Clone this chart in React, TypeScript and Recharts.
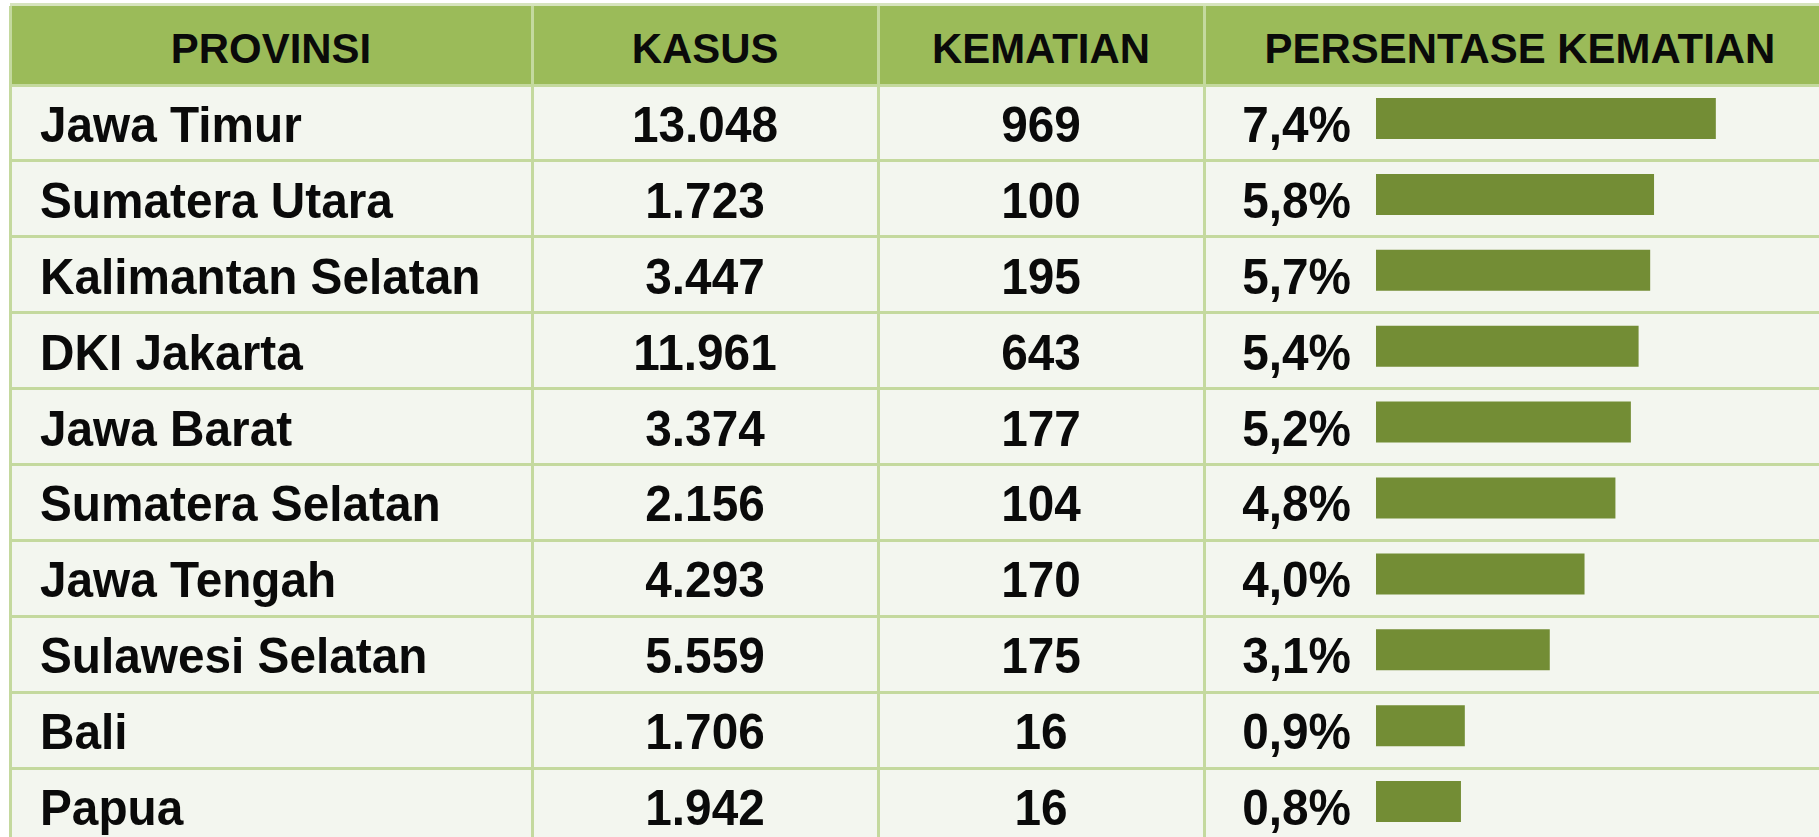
import React from "react";
import { BarChart, Bar, XAxis, YAxis } from "recharts";

// ─── Data ─────────────────────────────────────────────────────────────────────

const headers = ["PROVINSI", "KASUS", "KEMATIAN", "PERSENTASE KEMATIAN"];

const provinces = [
  "Jawa Timur",
  "Sumatera Utara",
  "Kalimantan Selatan",
  "DKI Jakarta",
  "Jawa Barat",
  "Sumatera Selatan",
  "Jawa Tengah",
  "Sulawesi Selatan",
  "Bali",
  "Papua",
];
const kasus = [13048, 1723, 3447, 11961, 3374, 2156, 4293, 5559, 1706, 1942];
const kematian = [969, 100, 195, 643, 177, 104, 170, 175, 16, 16];
const persentase = [7.4, 5.8, 5.7, 5.4, 5.2, 4.8, 4.0, 3.1, 0.9, 0.8];

const rows = provinces.map((province, i) => ({
  province,
  kasus: kasus[i],
  kematian: kematian[i],
  pct: persentase[i],
}));

// ─── Layout ───────────────────────────────────────────────────────────────────

const W = 1819;
const H = 837;
const FONT = "'Liberation Sans', Arial, Helvetica, sans-serif";
const HEADER_TOP = 6;
const HEADER_BOTTOM = 85;
const ROW_H = 75.9;
const TABLE_LEFT = 10;
const COL_LINES = [532, 878, 1204];
const HEADER_X = [271, 705, 1041, 1520];
const LINE = "#c4d99e";
const BAR_BASE = -1.4; // bars start a bit left of zero, as in the source slide

const fmtThousands = (n: number) => String(n).replace(/\B(?=(\d{3})+(?!\d))/g, ".");
const fmtPct = (v: number) => v.toFixed(1).replace(".", ",") + "%";

// ─── Row tick: draws the text columns of each row on the band scale ──────────

const RowTick = (props: any) => {
  const { y, payload } = props;
  const row = rows.find((r) => r.province === payload.value);
  if (!row) return null;
  const base = y + 23;
  const sx = "scale(0.955 1)";
  return (
    <g fontFamily={FONT} fontWeight="bold" fontSize={50} fill="#0a0a0a">
      <text transform={`translate(40 ${base}) ${sx}`} textAnchor="start">
        {row.province}
      </text>
      <text transform={`translate(705 ${base}) ${sx}`} textAnchor="middle">
        {fmtThousands(row.kasus)}
      </text>
      <text transform={`translate(1041 ${base}) ${sx}`} textAnchor="middle">
        {fmtThousands(row.kematian)}
      </text>
      <text transform={`translate(1351 ${base}) ${sx}`} textAnchor="end">
        {fmtPct(row.pct)}
      </text>
    </g>
  );
};

// ─── Component ────────────────────────────────────────────────────────────────

export default function App() {
  const chartTop = HEADER_BOTTOM - 4;
  const chartH = ROW_H * rows.length;

  return (
    <div
      style={{
        position: "absolute",
        left: 0,
        top: 0,
        width: W,
        height: H,
        overflow: "hidden",
        background: "#ffffff",
      }}
    >
      {/* table background */}
      <div style={{ position: "absolute", left: TABLE_LEFT, top: 3, right: 0, height: 3, background: "#d6e4bd" }} />
      <div
        style={{
          position: "absolute",
          left: TABLE_LEFT,
          top: HEADER_TOP,
          right: 0,
          height: HEADER_BOTTOM - HEADER_TOP - 1,
          background: "#9bbb59",
        }}
      />
      <div
        style={{
          position: "absolute",
          left: TABLE_LEFT,
          top: HEADER_BOTTOM,
          right: 0,
          bottom: 0,
          background: "#f3f6ef",
        }}
      />
      <div style={{ position: "absolute", left: TABLE_LEFT, top: HEADER_BOTTOM - 1, right: 0, height: 3, background: LINE }} />
      {rows.slice(1).map((r, i) => (
        <div
          key={r.province}
          style={{
            position: "absolute",
            left: TABLE_LEFT,
            right: 0,
            top: HEADER_BOTTOM + ROW_H * (i + 1) - 1.5,
            height: 3,
            background: LINE,
          }}
        />
      ))}
      {[TABLE_LEFT, ...COL_LINES].map((x) => (
        <div
          key={x}
          style={{ position: "absolute", left: x - 1, top: HEADER_TOP, bottom: 0, width: 3, background: LINE }}
        />
      ))}

      {/* header */}
      <svg width={W} height={HEADER_BOTTOM} style={{ position: "absolute", left: 0, top: 0 }}>
        <g fontFamily={FONT} fontWeight="bold" fontSize={43} fill="#0a0a0a">
          {headers.map((h, i) => (
            <text key={h} transform={`translate(${HEADER_X[i]} 63) scale(0.975 1)`} textAnchor="middle">
              {h}
            </text>
          ))}
        </g>
      </svg>

      {/* rows + bars */}
      <div style={{ position: "absolute", left: 0, top: chartTop }}>
        <BarChart
          width={W}
          height={chartH}
          data={rows}
          layout="vertical"
          margin={{ top: 0, right: 80, bottom: 0, left: 0 }}
        >
          <XAxis type="number" domain={[BAR_BASE, 8]} hide />
          <YAxis
            type="category"
            dataKey="province"
            width={1376}
            axisLine={false}
            tickLine={false}
            interval={0}
            tick={(p: any) => <RowTick {...p} />}
          />
          <Bar
            dataKey={(d: any) => [BAR_BASE, d.pct]}
            fill="#738d35"
            barSize={41}
            isAnimationActive={false}
          />
        </BarChart>
      </div>
    </div>
  );
}
